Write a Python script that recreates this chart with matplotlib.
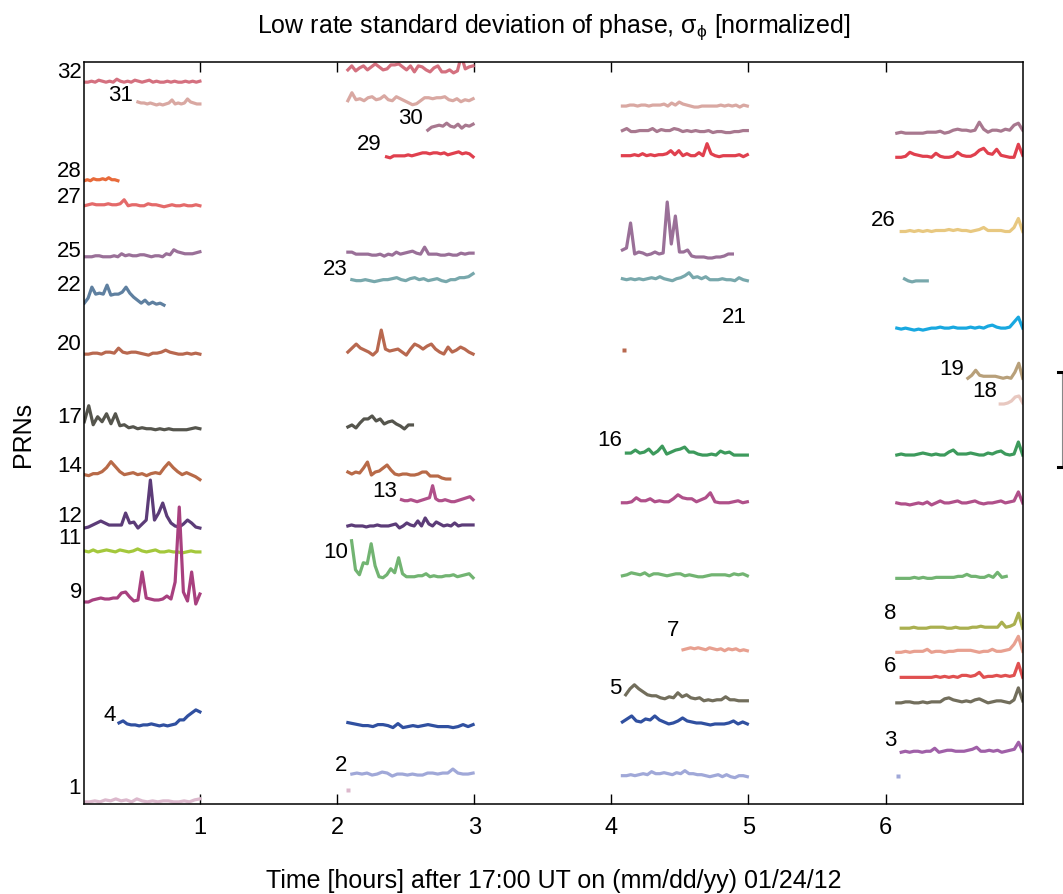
import matplotlib.pyplot as plt
import numpy as np

plt.rcParams['font.family'] = ['Liberation Sans', 'DejaVu Sans']
plt.rcParams['mathtext.fontset'] = 'custom'
plt.rcParams['mathtext.rm'] = 'Liberation Sans'
plt.rcParams['mathtext.it'] = 'Liberation Sans:italic'

# one sigma step expressed in PRN-row units
scale = 1 / 23.19

# ---- pass around 17:10-18:00 UT
s32_1 = [0, 0, 1, 0, 2, 1, 0, 1, 0, 3, 1, 0, 1, 0, 2, 1, 0, 1, 2, 0, 1, 0, 0, 1, 0, 1, 0, 0, 1, 0, 1, 0, 1]
s31_1 = [2, 1, 1, 0, 1, 0, -1, 0, -1, 0, 1, 4, 0, 1, 0, 1, 5, 2, 1, 0, 0]
s28_1 = [0, 1, 0, 2, 1, 1, 2, 1, 3, 1, 1, 0]
s27_1 = [0, 1, 2, 1, 1, 1, 2, 1, 1, 2, 6, 0, 1, 1, 0, 0, 2, 1, 1, 0, -1, 0, 1, 0, 0, 1, 0, 0, 1, 0]
s25_1 = [0, 0, 0, 1, 1, 0, 0, 0, 1, 0, 3, 1, 2, 1, 1, 2, 2, 1, 0, 1, 1, 0, 3, 2, 7, 5, 4, 3, 3, 3, 4, 5]
s22_1 = [0, 5, 16, 9, 10, 9, 18, 8, 9, 9, 11, 16, 10, 6, 3, 0, 3, -1, 1, -1, 0, -2]
s20_1 = [0, 0, 1, 1, 0, 2, 2, 1, 6, 2, 1, 2, 2, 1, 0, -1, 1, 1, 2, 4, 2, 1, 0, 0, 1, 0, 1, 0]
s17_1 = [8, 24, 5, 13, 8, 16, 6, 16, 4, 5, 2, 3, 1, 2, 1, 1, 0, 1, 0, 1, 0, 0, 0, 0, 1, 2, 1]
s14_1 = [1, 0, 2, 2, 4, 8, 14, 9, 4, 1, 2, 3, 1, 2, 0, 2, 3, 2, 8, 13, 8, 4, 1, 3, 1, -1, -4]
s12_1 = [0, 1, 3, 5, 7, 5, 3, 3, 3, 3, 15, 5, 6, 0, 4, 8, 48, 8, 15, 25, 12, 5, 2, 1, 4, 8, 5, 1, 0]
s11_1 = [1, 0, 2, 0, 1, 2, 1, 0, 2, 1, 0, 1, 3, 1, 0, 1, 2, 0, 0, 1, 0, 0, -1, 0, 1, 0, 0]
s9_1 = [0, 0, 2, 3, 4, 3, 3, 4, 4, 9, 10, 5, 1, 2, 30, 4, 3, 2, 2, 3, 6, 3, 20, 95, 10, 1, 30, -2, 8]
s4_1 = [2, 4, 1, 0, 0, -1, 0, 0, 1, 0, -1, 0, -1, 0, 1, 5, 5, 9, 12, 15, 13]
s1_1 = [0, 0, 1, 0, 2, 1, 3, 1, 2, 0, 3, 1, 0, 1, 0, 1, 1, 0, 0, 1, 0, 2, 3]

# ---- pass around 19:05-20:00 UT
s32_2 = [0, 4, -1, 2, 4, 0, 3, 6, 3, 0, 1, 5, 5, 6, 3, 0, 4, -2, 4, 3, 0, -2, 2, 4, -2, -2, 0, -3, -1, 14, 1, 3, 4]
s31_2 = [0, 8, 1, 2, 0, 3, 4, 1, 2, 5, 1, 0, 4, 2, 0, -2, -4, -3, 0, 3, 3, 2, 3, 3, 4, 1, 0, 2, -1, 1, 0, 2]
s30_2 = [0, 3, 4, 5, 4, 7, 4, 3, 6, 2, 5, 4, 6]
s29_2 = [0, -1, 1, 1, 1, 1, 2, 1, 2, 3, 4, 4, 3, 4, 4, 3, 4, 2, 3, 4, 5, 3, 4, 3, 0]
s25_2 = [3, 3, 1, 1, 1, 1, 0, 0, 1, -1, 1, 0, 3, 1, 2, 3, 4, 2, 1, 8, 1, 1, 1, 0, 0, 1, 0, 0, 2, 1, 2, 2]
s23_2 = [1, 0, 0, 1, 0, -1, 0, 1, 1, 2, 3, 1, 0, 2, 3, 1, 2, 0, 1, 2, 0, -1, 1, 1, 3, 3, 4, 7]
s20_2 = [0, 4, 8, 4, 2, 0, -3, 1, 22, 3, 1, 2, 3, 0, -3, 3, 8, 6, 3, 6, 8, 3, 0, -2, 5, 0, 2, 5, 3, 0, -2]
s17_2 = [0, 2, -1, 4, 8, 8, 11, 6, 8, 3, 5, 6, 3, 1, -2, 2, 2]
s14_2 = [2, 0, 2, 1, 6, 12, -1, 2, 3, 6, 9, 4, 0, -1, 0, 0, -1, -1, 0, 2, 2, -2, -2, -2, -4, -5, -5]
s13_2 = [1, 0, 0, 1, 0, -1, 0, 1, 2, 3, 15, 2, 0, 0, 1, 0, -1, -1, 0, 1, 2, 3, 4, 1]
s12_2 = [0, 1, 0, 0, 0, -1, 0, 0, 1, 0, 0, 0, 1, 2, -2, 0, 3, 1, 0, 5, 0, 8, 2, 0, 4, 2, 0, 1, 0, 3, 0, 1, 1, 1, 1]
s10_2 = [36, 7, 2, 14, 13, 33, 11, 0, -1, 2, 8, 4, 19, 3, 0, 0, 0, 1, 1, 3, 0, 1, 0, 0, 1, 1, 2, 0, 1, 2, 3, -1]
s4_2 = [3, 2, 1, 0, 0, -1, 1, 1, 0, -2, 2, -2, -1, 0, -1, 0, 1, 0, -1, -1, -1, -2, -1, 1, -1, 1]
s2_2 = [0, 1, 0, 1, -1, 0, 2, 1, -2, 0, 0, -1, 0, -1, -1, 1, 1, 0, 1, 1, 5, 1, 0, 0, 1]
s1_2 = [0]

# ---- pass around 21:05-22:00 UT
s31_3 = [0, 0, 1, 1, 0, 1, 1, 0, 1, 1, 1, 2, 0, 3, 1, 4, 2, 1, 0, -1, -1, 0, 0, 0, 0, 0, 1, 0, 1, 0, 1, -1, 1, 0]
s30_3 = [1, 3, 0, 0, 1, 1, 1, 3, 0, 2, 1, 1, 3, 2, 0, 1, 0, 1, 0, 0, 1, -1, 0, 0, -1, -1, 0, 0, 1, 1]
s29_3 = [0, 0, 0, 1, 0, 2, 0, 1, 0, 1, 1, 2, 5, 1, 5, 0, 2, 0, 0, 3, 0, 12, 2, 0, -1, 0, 0, 0, 0, 1, -1, 1]
s25_3 = [7, 9, 34, 3, 5, 4, 2, 3, 5, 3, 4, 55, 13, 41, 5, 5, 7, 1, 0, 0, 0, -1, -1, 0, 0, 1, 3, 3]
s23_3 = [1, 0, 1, 0, 1, 0, 1, 2, 1, 3, 1, 0, -1, 1, 2, 4, 7, 2, 3, 1, 3, 0, 0, 0, 1, 0, 0, -1, 2, 0, -1]
s20_3 = [0]
s16_3 = [1, 1, 4, 1, 2, 5, 0, 3, 8, 0, 2, 4, 5, 7, 2, 2, 0, -1, -1, 0, -1, 3, 1, 2, -1, -1, -1, -1]
s13_3 = [0, 0, 1, 5, 2, 2, 4, 1, 2, 1, 1, 4, 8, 5, 4, 4, 1, 3, 5, 10, 1, 0, 0, 0, 1, 2, 0, 1]
s10_3 = [0, 1, 3, 2, 1, 3, 0, 2, 2, 1, 0, 1, 2, 2, 0, 1, 0, -1, -1, 0, 1, 1, 1, 1, 0, 2, 1, 2, 0]
s7_3 = [0, 1, 2, 1, 2, 1, 0, 2, 1, 0, 1, -1, 1, 0, 1, -1, 0, -1]
s5_3 = [6, 12, 16, 12, 9, 6, 5, 5, 3, 2, 4, 3, 8, 4, 6, 3, 2, 3, 0, 1, 0, 1, 1, 4, 1, 1, 0, 0, 0]
s4_3 = [2, 5, 8, 3, 2, 5, 4, 8, 4, 2, 0, 1, 3, 6, 3, 2, 1, 1, 0, -1, 0, 0, 0, 1, 3, 0, 2, 0]
s2_3 = [0, 0, 1, 0, 1, 2, 1, 4, 2, 2, 3, 2, 1, 3, 2, 5, 2, 2, 1, 1, 0, -1, 0, 1, -1, 1, -1, -2, 0, 0, -1]

# ---- pass around 23:05-24:00 UT
s30_4 = [0, 1, 0, 0, 0, 0, 0, 1, 1, 1, 2, 0, 1, 3, 4, 3, 3, 2, 3, 11, 4, 1, 3, 3, 2, 4, 3, 8, 10, 3]
s29_4 = [0, 0, 1, 5, 3, 2, 1, 1, 0, 4, 1, 0, 0, 1, 5, 2, 1, 1, 3, 7, 9, 4, 3, 8, 2, 1, 0, 0, 13, 2]
s26_4 = [0, 0, 1, 0, 1, 0, 1, 0, 1, 1, 1, 2, 1, 2, 1, 1, 0, 1, 2, 4, 1, 1, 1, 1, 0, 0, 4, 13, 0]
s23_4 = [2, 0, -1, 0, 0, 0, 0]
s21_4 = [1, 0, 1, 0, -1, 0, -1, 0, 1, 1, 2, 1, 1, 2, 1, 1, 1, 2, 1, 2, 1, 3, 4, 2, 1, 1, 2, 7, 12, 1]
s19_4 = [0, 3, 8, 3, 2, 2, 2, 2, 1, 0, 1, 0, 6, 15, 0]
s18_4 = [0, 0, 1, 3, 7, 8, 1]
s16_4 = [0, 1, 0, 0, 0, 1, 2, 1, 0, 1, 0, 0, 3, 5, 1, 1, 1, 2, 1, 0, 0, 2, 1, 3, 4, 1, 0, 1, 13, 0]
s13_4 = [1, 0, 0, -1, 0, 1, 0, 2, -1, 1, 3, 1, 1, 2, 3, 1, 1, 2, 3, 1, 0, 1, 1, 2, 3, 1, 2, 3, 12, 1]
s10_4 = [0, 0, 0, 0, 1, 0, 1, 0, 0, 1, 1, 1, 1, 1, 2, 2, 4, 2, 2, 1, 1, 3, 1, 6, 1, 2]
s8_4 = [0, 0, 0, 1, 0, 0, 0, 1, 1, 1, 1, 0, 0, 1, 0, 0, 0, 1, 1, 2, 1, 1, 1, 1, 6, 1, 2, 4, 15, 0]
s7_4 = [0, 0, 1, 0, 1, 1, 1, 3, 0, 1, 1, 0, 1, 1, 2, 2, 2, 2, 1, 0, 1, 1, 3, 1, 1, 2, 3, 8, 16, 1]
s6_4 = [0, 0, 0, 0, 0, 0, 0, 0, 1, 0, 1, 0, 1, 0, 2, 2, 1, 2, 5, 0, 1, 1, 2, 1, 2, 1, 2, 14, 0]
s5_4 = [0, 0, 1, 1, 0, 0, 1, 0, 1, 1, 1, 4, 5, 3, 2, 1, 2, 1, 3, 4, 2, 0, 1, 2, 2, 1, 0, 3, 15, 2]
s3_4 = [0, 1, 0, 1, 1, 0, 1, 1, 4, 0, 1, 2, 2, 1, 1, 1, 2, 3, 5, 1, 1, 2, 1, 2, 0, 1, 2, 3, 10, 1]
s2_4 = [0]

# (PRN, start hour, end hour, row offset, samples)
passes = [
    (32, 0.157, 1.0, 31.13, s32_1), (31, 0.548, 1.0, 30.19, s31_1),
    (28, 0.157, 0.402, 26.88, s28_1), (27, 0.157, 1.0, 25.80, s27_1),
    (25, 0.157, 1.0, 23.60, s25_1), (22, 0.157, 0.738, 21.60, s22_1),
    (20, 0.157, 1.0, 19.40, s20_1), (17, 0.157, 1.0, 16.14, s17_1),
    (14, 0.157, 1.0, 14.16, s14_1), (12, 0.157, 1.0, 11.90, s12_1),
    (11, 0.157, 1.0, 10.87, s11_1), (9, 0.157, 1.0, 8.71, s9_1),
    (4, 0.41, 1.0, 3.41, s4_1), (1, 0.157, 1.0, 0.09, s1_1),

    (32, 2.079, 2.992, 31.66, s32_2), (31, 2.079, 2.992, 30.33, s31_2),
    (30, 2.662, 2.992, 29.06, s30_2), (29, 2.361, 2.992, 27.91, s29_2),
    (25, 2.079, 2.992, 23.67, s25_2), (23, 2.108, 2.992, 22.57, s23_2),
    (20, 2.079, 2.992, 19.49, s20_2), (17, 2.079, 2.55, 16.26, s17_2),
    (14, 2.079, 2.822, 14.23, s14_2), (13, 2.47, 2.992, 13.08, s13_2),
    (12, 2.079, 2.992, 11.99, s12_2), (10, 2.106, 2.992, 9.80, s10_2),
    (4, 2.079, 2.992, 3.38, s4_2), (2, 2.108, 2.992, 1.29, s2_2),
    (1, 2.077, 2.077, 0.62, s1_2),

    (31, 4.081, 4.992, 30.10, s31_3), (30, 4.081, 4.992, 29.00, s30_3),
    (29, 4.081, 4.992, 27.96, s29_3), (25, 4.081, 4.883, 23.59, s25_3),
    (23, 4.081, 4.992, 22.61, s23_3), (20, 4.09, 4.09, 19.58, s20_3),
    (16, 4.11, 4.992, 15.09, s16_3), (13, 4.081, 4.992, 12.99, s13_3),
    (10, 4.081, 4.992, 9.84, s10_3), (7, 4.523, 4.992, 6.65, s7_3),
    (5, 4.105, 4.992, 4.45, s5_3), (4, 4.081, 4.992, 3.45, s4_3),
    (2, 4.081, 4.992, 1.22, s2_3),

    (30, 6.082, 7.0, 28.93, s30_4), (29, 6.082, 7.0, 27.89, s29_4),
    (26, 6.114, 7.0, 24.69, s26_4), (23, 6.138, 6.304, 22.56, s23_4),
    (21, 6.082, 7.0, 20.48, s21_4), (19, 6.60, 7.0, 18.36, s19_4),
    (18, 6.836, 7.0, 17.25, s18_4), (16, 6.082, 7.0, 15.05, s16_4),
    (13, 6.082, 7.0, 12.94, s13_4), (10, 6.082, 6.88, 9.73, s10_4),
    (8, 6.114, 7.0, 7.58, s8_4), (7, 6.082, 7.0, 6.54, s7_4),
    (6, 6.114, 7.0, 5.46, s6_4), (5, 6.082, 7.0, 4.36, s5_4),
    (3, 6.114, 7.0, 2.23, s3_4), (2, 6.09, 6.09, 1.19, s2_4),
]

prn_colors = {
    32: '#d4707f', 31: '#d9a8a2', 30: '#a8788f', 29: '#e0404e', 28: '#e86a3a',
    27: '#e46a6a', 26: '#e8c880', 25: '#9a7098', 23: '#78a8ac', 22: '#5f80a0',
    21: '#18a8e0', 20: '#b8684f', 19: '#b8a07a', 18: '#e8c8c0', 17: '#55554d',
    16: '#3d9a5c', 14: '#b86a48', 13: '#b0508a', 12: '#5c3c78', 11: '#a4c83c',
    10: '#72b472', 9: '#a8407f', 8: '#aab050', 7: '#e8a090', 6: '#e05050',
    5: '#726e5c', 4: '#3050a0', 3: '#a060a8', 2: '#a0a8d8', 1: '#dcb8cc',
}

label_prn = [32, 31, 28, 27, 25, 22, 20, 17, 14, 12, 11, 9, 4, 1,
             30, 29, 23, 13, 10, 2, 21, 16, 7, 5, 26, 19, 18, 8, 6, 3]
label_t = [0.049, 0.42, 0.049, 0.049, 0.049, 0.049, 0.049, 0.049, 0.049, 0.049, 0.049, 0.096, 0.344, 0.089,
           2.538, 2.232, 1.988, 2.348, 1.988, 2.031, 4.90, 3.988, 4.451, 4.032, 5.985, 6.48, 6.72, 6.033, 6.033, 6.033]
label_lvl = [31.57, 30.62, 27.30, 26.18, 23.87, 22.40, 19.88, 16.71, 14.59, 12.42, 11.50, 9.16, 3.86, 0.73,
             29.60, 28.50, 23.11, 13.52, 10.89, 1.72, 21.02, 15.74, 7.52, 5.02, 25.20, 18.80, 17.82, 8.24, 5.97, 2.80]

# scale bar to the right of the axes (hour position, bottom and top in row units)
bar_t = 7.283
bar_lo, bar_hi = 14.55, 18.62

fig = plt.figure(figsize=(10.63, 8.95), dpi=100)
ax = fig.add_axes([0.0793, 0.1006, 0.8828, 0.829])

for prn, t0, t1, lvl, s in passes:
    s = np.asarray(s, dtype=float)
    c = prn_colors[prn]
    if len(s) == 1:
        ax.plot([t0], lvl + s * scale, 's', ms=2.5, color=c, mec='none')
    else:
        t = np.linspace(t0, t1, len(s))
        ax.plot(t, lvl + s * scale, color=c, lw=2.3, solid_joinstyle='round')

for prn, t, lvl in zip(label_prn, label_t, label_lvl):
    ax.text(t, lvl, str(prn), fontsize=16, ha='center', va='center')

ax.plot([bar_t, bar_t], [bar_lo, bar_hi], color='#888888', lw=0.8, clip_on=False)
for yb in (bar_lo, bar_hi):
    ax.plot([bar_t - 0.026, bar_t + 0.01], [yb, yb], color='black', lw=2.2, clip_on=False)

ax.set_xlim(0.157, 7.0)
ax.set_ylim(0, 32)
ax.set_xticks([1, 2, 3, 4, 5, 6])
ax.set_yticks([])
ax.tick_params(axis='x', direction='in', top=True, length=7, width=1, labelsize=17, pad=9)
for sp in ax.spines.values():
    sp.set_linewidth(1.1)

ax.set_title('Low rate standard deviation of phase, $\\mathregular{\\sigma_{\\phi}}$ [normalized]',
             fontsize=18, pad=22)
ax.set_xlabel('Time [hours] after 17:00 UT on (mm/dd/yy) 01/24/12', fontsize=18, labelpad=21)
ax.set_ylabel('PRNs', fontsize=18)
ax.yaxis.set_label_coords(-0.052, 0.5)

fig.savefig('out.png', dpi=100)
